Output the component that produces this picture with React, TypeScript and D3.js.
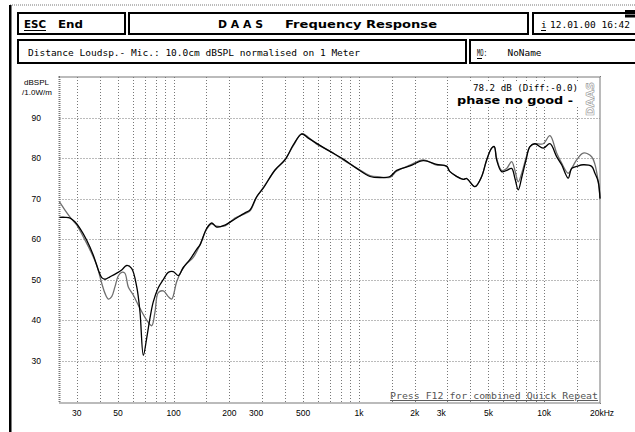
import React from 'react'
import * as d3 from 'd3'

// measured curve (black) and the reference curve (gray), Hz -> dB SPL
const blackFreq = [24.2, 26, 27.6, 29.3, 31.2, 33.9, 36.8, 39.2, 40.9, 42.6, 45.3, 49.3, 52.4, 55.8, 59.3, 63.2, 65.8, 68.6, 71.5, 74.5, 77.6, 82.6, 87.9, 93.5, 99.5, 105.9, 112.7, 122.5, 133.1, 138.7, 150.8, 160.4, 170.7, 189.2, 214.2, 242.6, 258.2, 280.5, 304.5, 352.2, 398.8, 442.2, 490.9, 532.7, 591.3, 697.7, 823.1, 971.9, 1147, 1298, 1470, 1598, 1885, 2224, 2627, 2974, 3099, 3656, 3814, 4227, 4595, 4890, 5203, 5374, 5536, 5891, 6270, 6671, 6950, 7241, 7582, 7969, 8374, 8912, 9878, 10735, 11668, 12417, 13477, 14060, 14960, 16237, 18026, 18781, 19567, 20000]
const blackSpl = [65.4, 65.4, 65.2, 64.3, 62.7, 59.8, 56.1, 52.4, 50.5, 50.1, 50.7, 51.6, 52.4, 53.5, 52.8, 48.2, 42, 31.3, 35.5, 40.5, 44.5, 48, 50, 51.8, 52, 51, 53, 55, 57.5, 58.6, 62.7, 64, 63, 63.5, 65, 66.5, 67.2, 70.5, 72.6, 77.1, 79.6, 83.3, 86, 85, 83.7, 81.7, 79.8, 77.5, 75.5, 75.2, 75.5, 77, 78.1, 79.4, 78.5, 78, 76.7, 74.8, 75, 73, 75.5, 79.6, 82.5, 82.9, 79.6, 76.7, 77, 77.5, 75, 72.2, 75.5, 79.5, 82.9, 83.6, 82.5, 83.6, 80.4, 78.4, 75.1, 77.5, 78, 78.4, 78, 76.3, 74.2, 70]

const grayFreq = [24.2, 25.9, 28.2, 30, 32.5, 35.4, 38.4, 40.9, 42.6, 44.4, 46.3, 48.2, 50.2, 52.4, 54.5, 56.9, 60.5, 65.8, 71.5, 76.1, 79.3, 82.6, 87.9, 93.5, 97.6, 103.8, 110.5, 117.6, 127.6, 138.7, 150.8, 160.4, 170.7, 189.2, 214.2, 242.6, 258.2, 280.5, 304.5, 352.2, 398.8, 442.2, 490.9, 532.7, 591.3, 697.7, 823.1, 971.9, 1147, 1298, 1470, 1598, 1885, 2224, 2627, 2974, 3099, 3656, 3814, 4227, 4595, 4890, 5203, 5374, 5536, 5891, 6270, 6671, 6950, 7241, 7582, 7969, 8374, 8912, 9878, 10735, 11668, 12417, 13477, 14060, 14960, 16237, 18026, 18781, 19567, 20000]
const graySpl = [69.2, 67.2, 64.9, 63.5, 60.6, 57.3, 53.6, 49.1, 46.6, 45.2, 45.8, 48.2, 50.9, 51.8, 51.6, 48.2, 46.2, 42.9, 40, 38.6, 42, 46.8, 47.2, 45.8, 45.2, 49.5, 52.3, 54, 55.5, 58.6, 62.5, 63.8, 63.2, 63.3, 65.2, 66.3, 67, 70.4, 72.8, 77, 79.7, 83.1, 86.1, 85.2, 83.5, 81.8, 79.6, 77.6, 75.7, 75.4, 75.3, 76.8, 78.3, 79.6, 78.3, 78.1, 76.7, 74.8, 75, 73, 75.5, 79.6, 82.5, 82.9, 80, 77, 77.5, 79.2, 77, 74.2, 76.5, 80, 82.9, 83.6, 83.6, 85.6, 81.3, 78.8, 76.3, 77.5, 79.6, 81.3, 80.4, 78.5, 74.2, 70.2]

const freqTicks = [30, 50, 100, 200, 300, 500, 1000, 2000, 3000, 5000, 10000, 20000]
const freqTickLabels = ['30', '50', '100', '200', '300', '500', '1k', '2k', '3k', '5k', '10k', '20kHz']
const gridFreqs = [30, 40, 50, 60, 70, 80, 90, 100, 150, 200, 300, 400, 500, 600, 700, 800, 900, 1000, 1500, 2000, 3000, 4000, 5000, 6000, 7000, 8000, 9000, 10000, 15000]
const splTicks = [30, 40, 50, 60, 70, 80, 90]

const x = d3.scaleLog().domain([24.2, 20000]).range([59.5, 600])
const y = d3.scaleLinear().domain([19.5, 100.1]).range([403, 77])

const line = d3
  .line<[number, number]>()
  .x((d) => x(d[0]))
  .y((d) => y(d[1]))
  .curve(d3.curveCatmullRom.alpha(0.5))

const mono = '"DejaVu Sans Mono", "Liberation Mono", monospace'
const sans = '"Liberation Sans", Arial, sans-serif'
const boldSans = '"DejaVu Sans", sans-serif'

const App = () => {
  const black = line(blackFreq.map((f, i) => [f, blackSpl[i]]) as [number, number][])
  const gray = line(grayFreq.map((f, i) => [f, graySpl[i]]) as [number, number][])
  const top = y.range()[1]
  const bottom = y.range()[0]
  const [left, right] = x.range()

  return (
    <svg
      width={635}
      height={432}
      style={{ position: 'absolute', left: 0, top: 0, display: 'block', background: '#fff' }}
    >
      {/* outer frame */}
      <line x1={10} y1={5} x2={635} y2={5} stroke="#777" strokeDasharray="1,1" />
      <rect x={9} y={5} width={2.5} height={427} fill="#000" />
      <rect x={625} y={10} width={10} height={2.5} fill="#000" />
      <rect x={625} y={14.5} width={10} height={3} fill="#000" />

      {/* header boxes */}
      <g fill="none" stroke="#000" strokeWidth={2}>
        <rect x={18} y={13} width={107} height={21} />
        <rect x={129} y={13} width={399} height={21} />
        <rect x={533} y={13} width={110} height={21} />
        <rect x={18} y={40} width={448} height={23} />
        <rect x={470} y={40} width={170} height={23} />
      </g>

      <g fontFamily={boldSans} fontWeight="bold" fontSize={10} fill="#000">
        <text x={24} y={28} textLength={22} lengthAdjust="spacingAndGlyphs">ESC</text>
        <text x={58} y={28} textLength={25} lengthAdjust="spacingAndGlyphs">End</text>
        <text x={218} y={28} textLength={45} lengthAdjust="spacingAndGlyphs">D A A S</text>
        <text x={285} y={28} textLength={152} lengthAdjust="spacingAndGlyphs">Frequency Response</text>
      </g>
      <line x1={24} y1={30.5} x2={46} y2={30.5} stroke="#000" />

      <g fontFamily={mono} fontSize={9.5} fill="#000">
        <text x={541} y={28}>i</text>
        <text x={550} y={28} textLength={80} lengthAdjust="spacingAndGlyphs">12.01.00 16:42</text>
        <text x={28} y={56} textLength={332} lengthAdjust="spacingAndGlyphs">
          Distance Loudsp.- Mic.: 10.0cm dBSPL normalised on 1 Meter
        </text>
        <text x={477} y={56} textLength={10} lengthAdjust="spacingAndGlyphs">MO:</text>
        <text x={507.5} y={56} textLength={34} lengthAdjust="spacingAndGlyphs">NoName</text>
      </g>
      <line x1={541} y1={30.5} x2={546} y2={30.5} stroke="#000" />
      <line x1={477} y1={58.5} x2={482} y2={58.5} stroke="#000" />

      {/* grid */}
      <g stroke="#777" strokeWidth={1} strokeDasharray="1,2">
        {splTicks.map((v) => (
          <line key={'h' + v} x1={left} x2={right} y1={Math.round(y(v)) + 0.5} y2={Math.round(y(v)) + 0.5} />
        ))}
        {gridFreqs.map((f) => (
          <line key={'v' + f} x1={Math.round(x(f)) + 0.5} x2={Math.round(x(f)) + 0.5} y1={top} y2={bottom} />
        ))}
      </g>

      {/* plot border */}
      <rect
        x={left}
        y={top}
        width={right - left}
        height={bottom - top}
        fill="none"
        stroke="#777"
        strokeWidth={2}
        strokeDasharray="1,1"
      />

      {/* axis labels */}
      <g fontFamily={sans} fontSize={8.5} fill="#000">
        {splTicks.map((v) => (
          <text key={v} x={41} y={y(v)} dy="0.35em" textAnchor="end">
            {v}
          </text>
        ))}
        {freqTicks.map((f, i) => {
          const last = i === freqTicks.length - 1
          const nudge = f === 300 || f === 3000 ? -6 : 0
          return (
            <text
              key={f}
              x={last ? x(f) - 10 : x(f) + nudge}
              y={413}
              dy="0.35em"
              textAnchor={last ? 'start' : 'middle'}
            >
              {freqTickLabels[i]}
            </text>
          )
        })}
        <text x={36.5} y={85} textAnchor="middle" fontSize={8}>dBSPL</text>
        <text x={37} y={95} textAnchor="middle" fontSize={8}>/1.0W/m</text>
      </g>

      {/* curves */}
      <path d={gray ?? ''} fill="none" stroke="#6f6f6f" strokeWidth={1.3} />
      <path d={black ?? ''} fill="none" stroke="#000" strokeWidth={1.3} />

      {/* annotations */}
      <rect x={455} y={82} width={125} height={24} fill="#fff" />
      <text x={473} y={91} fontFamily={mono} fontSize={9.5} textLength={105} lengthAdjust="spacingAndGlyphs">
        78.2 dB (Diff:-0.0)
      </text>
      <text
        x={457}
        y={103.5}
        fontFamily={boldSans}
        fontWeight="bold"
        fontSize={10.5}
        textLength={116}
        lengthAdjust="spacingAndGlyphs"
      >
        phase no good -
      </text>
      <text
        transform="translate(594,99) rotate(-90)"
        textAnchor="middle"
        fontFamily={boldSans}
        fontWeight="bold"
        fontSize={11}
        fill="#fff"
        stroke="#999"
        strokeWidth={0.6}
      >
        DAAS
      </text>
      <text
        x={390}
        y={399}
        fontFamily={mono}
        fontSize={9.5}
        fill="#555"
        textLength={208}
        lengthAdjust="spacingAndGlyphs"
        textDecoration="underline"
      >
        Press F12 for combined Quick Repeat
      </text>
    </svg>
  )
}

export default App
